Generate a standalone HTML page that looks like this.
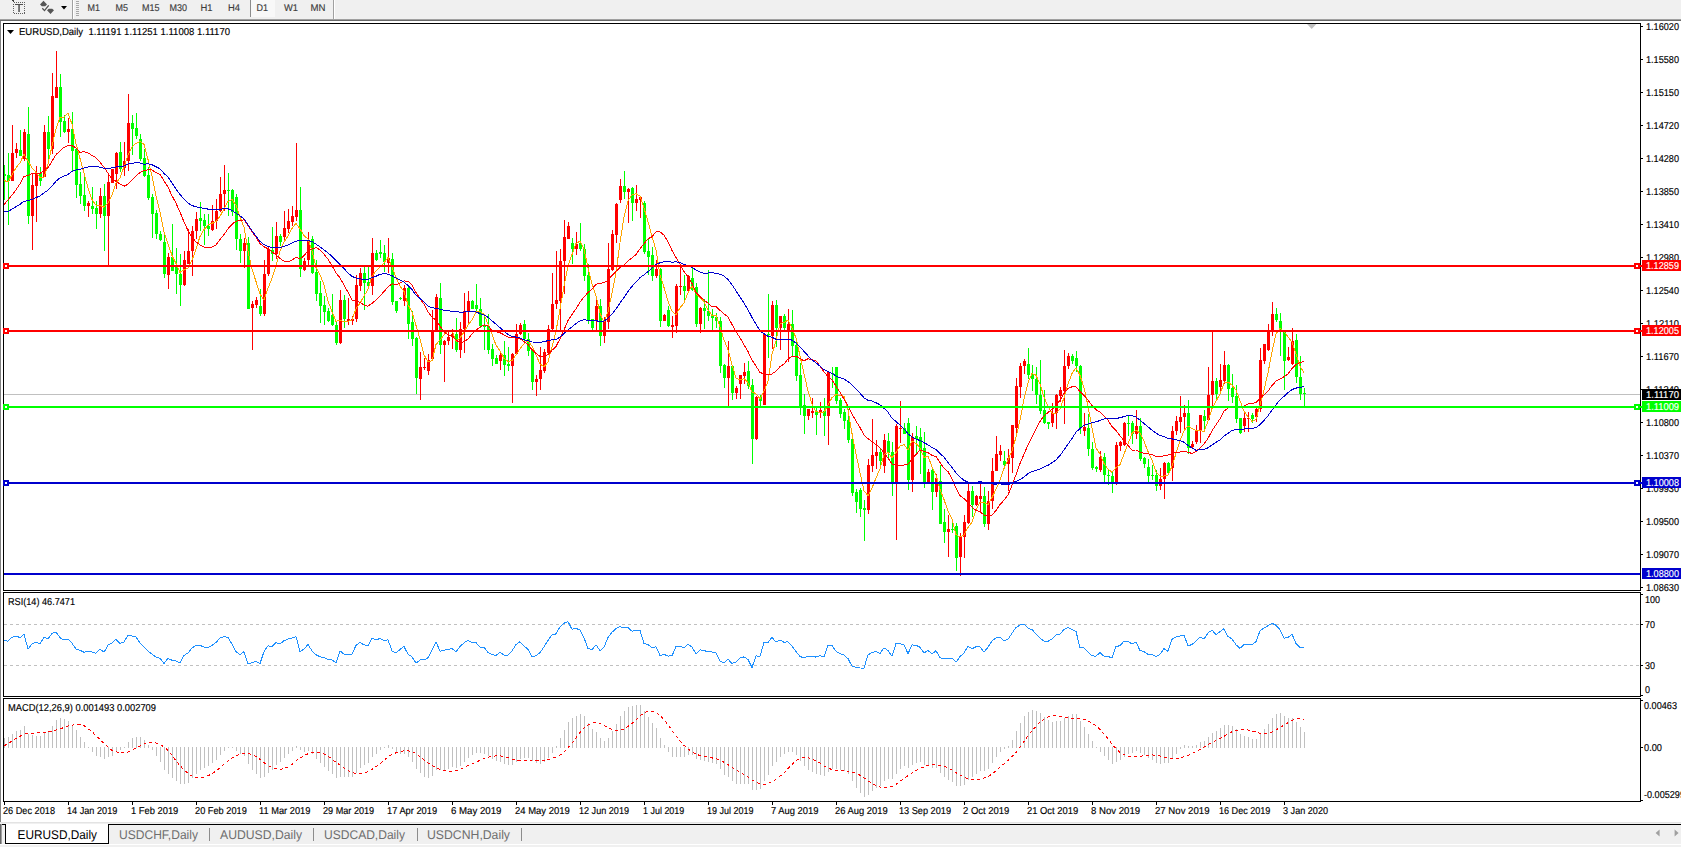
<!DOCTYPE html>
<html lang="en"><head><meta charset="utf-8"><title>EURUSD,Daily</title>
<style>html,body{margin:0;padding:0;background:#fff;overflow:hidden}svg{display:block}text{font-family:"Liberation Sans",sans-serif;fill:#000;text-rendering:geometricPrecision}.ax{font-size:10px;stroke:#000;stroke-width:0.15px}.axw{stroke:#fff}.tb{font-size:9.8px;fill:#3c3c3c;stroke:#3c3c3c;stroke-width:0.15px}.tab{font-size:12.6px}.tabi{font-size:12.6px;fill:#6e6e6e}</style></head><body>
<svg width="1681" height="847" viewBox="0 0 1681 847">
<rect x="0" y="0" width="1681" height="847" fill="#ffffff"/>
<g shape-rendering="crispEdges">
<rect x="0" y="0" width="1681" height="19" fill="#f0f0f0"/>
<rect x="0" y="19" width="1681" height="1" fill="#a0a0a0"/>
<rect x="0" y="20" width="1681" height="1" fill="#696969"/>
<rect x="72" y="0" width="1" height="19" fill="#a0a0a0"/>
<rect x="73" y="0" width="1" height="19" fill="#ffffff"/>
<rect x="333" y="0" width="1" height="19" fill="#a0a0a0"/>
<rect x="334" y="0" width="1" height="19" fill="#ffffff"/>
<rect x="76" y="1" width="3" height="1" fill="#a8a8a8"/>
<rect x="76" y="3" width="3" height="1" fill="#a8a8a8"/>
<rect x="76" y="5" width="3" height="1" fill="#a8a8a8"/>
<rect x="76" y="7" width="3" height="1" fill="#a8a8a8"/>
<rect x="76" y="9" width="3" height="1" fill="#a8a8a8"/>
<rect x="76" y="11" width="3" height="1" fill="#a8a8a8"/>
<rect x="76" y="13" width="3" height="1" fill="#a8a8a8"/>
<rect x="76" y="15" width="3" height="1" fill="#a8a8a8"/>
<rect x="251" y="0" width="24" height="17" fill="#f8f8f8"/>
<rect x="250" y="0" width="1" height="17" fill="#8c8c8c"/>
</g>
<g shape-rendering="crispEdges">
<rect x="13.5" y="2.5" width="11" height="11" fill="none" stroke="#606060" stroke-width="1" stroke-dasharray="1 1"/>
<rect x="12" y="0" width="2" height="1" fill="#404040"/><rect x="13" y="1" width="1" height="1" fill="#404040"/>
<rect x="15" y="4" width="8" height="1" fill="#505050"/>
</g>
<rect x="18.3" y="4" width="1.5" height="8" fill="#505050"/>
<path d="M40 4.6L43.5 0.8L47 4.6L45.2 6.2H41.8z M47 10.2L48.8 8.8H52.2L54 10.2L50.5 13.9z" fill="#555"/>
<path d="M42.3 8.3l2.2 2.3 4.2-5.3" fill="none" stroke="#505050" stroke-width="1.3"/>
<path d="M61 6h6l-3 3.5z" fill="#000"/>
<text class="tb" x="87.5" y="11" textLength="12.5" lengthAdjust="spacingAndGlyphs">M1</text>
<text class="tb" x="115.5" y="11" textLength="12.5" lengthAdjust="spacingAndGlyphs">M5</text>
<text class="tb" x="142" y="11" textLength="17.5" lengthAdjust="spacingAndGlyphs">M15</text>
<text class="tb" x="169.5" y="11" textLength="17.5" lengthAdjust="spacingAndGlyphs">M30</text>
<text class="tb" x="200.5" y="11" textLength="12" lengthAdjust="spacingAndGlyphs">H1</text>
<text class="tb" x="228" y="11" textLength="12" lengthAdjust="spacingAndGlyphs">H4</text>
<text class="tb" x="256.5" y="11" textLength="11.5" lengthAdjust="spacingAndGlyphs">D1</text>
<text class="tb" x="284" y="11" textLength="14" lengthAdjust="spacingAndGlyphs">W1</text>
<text class="tb" x="310.5" y="11" textLength="15" lengthAdjust="spacingAndGlyphs">MN</text>
<g shape-rendering="crispEdges">
<rect x="0" y="21" width="1" height="801" fill="#828282"/>
<rect x="3" y="23" width="1638" height="1" fill="#000"/>
<rect x="3" y="590" width="1638" height="1" fill="#000"/>
<rect x="3" y="23" width="1" height="568" fill="#000"/>
<rect x="1640" y="23" width="1" height="568" fill="#000"/>
<rect x="3" y="592" width="1638" height="1" fill="#000"/>
<rect x="3" y="696" width="1638" height="1" fill="#000"/>
<rect x="3" y="592" width="1" height="105" fill="#000"/>
<rect x="1640" y="592" width="1" height="105" fill="#000"/>
<rect x="3" y="698" width="1638" height="1" fill="#000"/>
<rect x="3" y="801" width="1638" height="1" fill="#000"/>
<rect x="3" y="698" width="1" height="104" fill="#000"/>
<rect x="1640" y="698" width="1" height="104" fill="#000"/>
</g>
<defs><clipPath id="cm"><rect x="4" y="24" width="1636" height="566"/></clipPath><clipPath id="cr"><rect x="4" y="593" width="1636" height="103"/></clipPath><clipPath id="cd"><rect x="4" y="699" width="1636" height="102"/></clipPath></defs>
<g clip-path="url(#cm)">
<rect x="4" y="394" width="1636" height="1" fill="#c0c0c0" shape-rendering="crispEdges"/>
<g shape-rendering="crispEdges">
<path fill="#00ff00" d="M4 165h1v35h-1zM8 153h1v72h-1zM20 130h1v26h-1zM28 107h1v117h-1zM40 167h1v19h-1zM48 116h1v46h-1zM60 74h1v63h-1zM64 115h1v18h-1zM72 112h1v59h-1zM76 149h1v49h-1zM80 172h1v32h-1zM84 175h1v36h-1zM92 187h1v27h-1zM96 201h1v28h-1zM104 184h1v67h-1zM120 142h1v30h-1zM132 115h1v40h-1zM136 113h1v26h-1zM140 134h1v27h-1zM144 149h1v28h-1zM148 167h1v33h-1zM152 194h1v44h-1zM156 210h1v29h-1zM160 231h1v10h-1zM164 234h1v44h-1zM172 224h1v47h-1zM176 248h1v46h-1zM180 254h1v52h-1zM200 202h1v29h-1zM204 214h1v31h-1zM208 214h1v22h-1zM228 173h1v43h-1zM232 189h1v27h-1zM236 194h1v56h-1zM240 234h1v29h-1zM248 237h1v72h-1zM260 289h1v27h-1zM272 227h1v34h-1zM280 234h1v12h-1zM300 187h1v90h-1zM312 236h1v38h-1zM316 260h1v41h-1zM320 281h1v42h-1zM324 296h1v29h-1zM328 308h1v14h-1zM332 294h1v32h-1zM336 321h1v24h-1zM344 295h1v33h-1zM364 267h1v43h-1zM368 267h1v22h-1zM376 250h1v11h-1zM380 240h1v18h-1zM384 245h1v27h-1zM392 253h1v52h-1zM396 301h1v12h-1zM400 297h1v3h-1zM408 286h1v53h-1zM412 311h1v35h-1zM416 337h1v57h-1zM440 283h1v71h-1zM456 318h1v34h-1zM472 300h1v9h-1zM476 284h1v27h-1zM480 298h1v30h-1zM484 316h1v34h-1zM488 314h1v40h-1zM492 344h1v22h-1zM496 355h1v9h-1zM504 341h1v35h-1zM508 347h1v24h-1zM524 320h1v21h-1zM528 333h1v23h-1zM532 349h1v41h-1zM572 238h1v26h-1zM580 223h1v28h-1zM584 244h1v37h-1zM588 264h1v60h-1zM592 319h1v11h-1zM600 299h1v47h-1zM624 171h1v28h-1zM632 187h1v34h-1zM644 201h1v53h-1zM648 239h1v36h-1zM652 247h1v34h-1zM660 268h1v59h-1zM668 306h1v21h-1zM684 275h1v25h-1zM692 267h1v24h-1zM696 283h1v44h-1zM704 299h1v30h-1zM708 270h1v51h-1zM712 309h1v21h-1zM716 313h1v15h-1zM720 317h1v56h-1zM724 364h1v24h-1zM732 366h1v34h-1zM748 361h1v28h-1zM752 379h1v85h-1zM760 395h1v11h-1zM768 294h1v64h-1zM776 300h1v47h-1zM784 314h1v16h-1zM792 310h1v46h-1zM796 340h1v41h-1zM800 363h1v52h-1zM804 394h1v40h-1zM816 408h1v27h-1zM824 398h1v38h-1zM832 367h1v21h-1zM836 367h1v37h-1zM840 398h1v20h-1zM844 409h1v20h-1zM848 409h1v34h-1zM852 438h1v58h-1zM856 489h1v24h-1zM860 488h1v29h-1zM864 500h1v41h-1zM880 448h1v18h-1zM888 433h1v26h-1zM892 442h1v54h-1zM904 423h1v11h-1zM908 418h1v72h-1zM916 426h1v28h-1zM920 428h1v46h-1zM924 432h1v56h-1zM932 468h1v42h-1zM940 465h1v59h-1zM944 509h1v34h-1zM952 523h1v10h-1zM956 523h1v48h-1zM972 486h1v31h-1zM984 487h1v40h-1zM1004 451h1v16h-1zM1028 348h1v31h-1zM1032 365h1v26h-1zM1036 367h1v37h-1zM1040 360h1v54h-1zM1044 390h1v34h-1zM1048 422h1v7h-1zM1072 354h1v10h-1zM1076 351h1v21h-1zM1080 365h1v69h-1zM1088 414h1v42h-1zM1092 442h1v28h-1zM1096 466h1v6h-1zM1104 453h1v29h-1zM1108 470h1v15h-1zM1112 471h1v22h-1zM1128 416h1v20h-1zM1132 421h1v23h-1zM1140 418h1v43h-1zM1144 457h1v11h-1zM1148 459h1v23h-1zM1152 465h1v15h-1zM1156 470h1v21h-1zM1168 462h1v12h-1zM1188 400h1v54h-1zM1204 410h1v20h-1zM1216 378h1v21h-1zM1228 364h1v37h-1zM1232 374h1v29h-1zM1236 385h1v38h-1zM1240 418h1v16h-1zM1252 413h1v10h-1zM1276 308h1v14h-1zM1280 313h1v43h-1zM1284 332h1v58h-1zM1296 334h1v49h-1zM1300 356h1v44h-1zM1304 388h1v18h-1zM3 174h3v2h-3zM7 175h3v6h-3zM19 150h3v6h-3zM27 134h3v82h-3zM39 173h3v8h-3zM47 132h3v17h-3zM59 87h3v35h-3zM63 121h3v11h-3zM71 129h3v22h-3zM75 149h3v36h-3zM79 184h3v12h-3zM83 195h3v11h-3zM91 206h3v3h-3zM95 208h3v6h-3zM103 196h3v20h-3zM119 152h3v17h-3zM131 123h3v6h-3zM135 128h3v8h-3zM139 139h3v20h-3zM143 158h3v18h-3zM147 175h3v23h-3zM151 197h3v17h-3zM155 213h3v21h-3zM159 234h3v6h-3zM163 242h3v32h-3zM171 257h3v14h-3zM175 266h3v8h-3zM179 274h3v11h-3zM199 218h3v3h-3zM203 220h3v6h-3zM207 226h3v3h-3zM227 190h3v1h-3zM231 190h3v22h-3zM235 197h3v42h-3zM239 239h3v12h-3zM247 243h3v66h-3zM259 306h3v8h-3zM271 250h3v4h-3zM279 236h3v6h-3zM299 210h3v59h-3zM311 239h3v34h-3zM315 272h3v22h-3zM319 293h3v13h-3zM323 305h3v7h-3zM327 311h3v10h-3zM331 315h3v10h-3zM335 325h3v18h-3zM343 300h3v19h-3zM363 273h3v10h-3zM367 282h3v4h-3zM375 253h3v7h-3zM379 252h3v2h-3zM383 253h3v9h-3zM391 259h3v43h-3zM395 301h3v10h-3zM399 298h3v1h-3zM407 288h3v36h-3zM411 322h3v17h-3zM415 338h3v40h-3zM439 298h3v47h-3zM455 334h3v16h-3zM471 301h3v8h-3zM475 305h3v4h-3zM479 309h3v17h-3zM483 326h3v1h-3zM487 326h3v24h-3zM491 349h3v10h-3zM495 358h3v6h-3zM503 355h3v10h-3zM507 364h3v2h-3zM523 324h3v15h-3zM527 339h3v12h-3zM531 350h3v32h-3zM571 243h3v6h-3zM579 243h3v6h-3zM583 249h3v27h-3zM587 275h3v46h-3zM591 319h3v9h-3zM599 306h3v30h-3zM623 186h3v6h-3zM631 188h3v15h-3zM643 203h3v49h-3zM647 251h3v6h-3zM651 255h3v21h-3zM659 269h3v52h-3zM667 310h3v16h-3zM683 286h3v5h-3zM691 278h3v12h-3zM695 287h3v37h-3zM703 308h3v3h-3zM707 311h3v5h-3zM711 316h3v2h-3zM715 317h3v4h-3zM719 321h3v45h-3zM723 365h3v13h-3zM731 366h3v27h-3zM747 371h3v15h-3zM751 385h3v54h-3zM759 397h3v4h-3zM767 334h3v1h-3zM775 305h3v23h-3zM783 316h3v12h-3zM791 324h3v22h-3zM795 345h3v31h-3zM799 375h3v32h-3zM803 405h3v11h-3zM815 411h3v4h-3zM823 411h3v5h-3zM831 373h3v1h-3zM835 367h3v34h-3zM839 400h3v14h-3zM843 412h3v9h-3zM847 420h3v20h-3zM851 439h3v54h-3zM855 492h3v10h-3zM859 490h3v19h-3zM863 508h3v2h-3zM879 452h3v9h-3zM887 441h3v12h-3zM891 452h3v30h-3zM903 428h3v6h-3zM907 423h3v57h-3zM915 436h3v3h-3zM919 437h3v13h-3zM923 448h3v34h-3zM931 470h3v22h-3zM939 481h3v43h-3zM943 522h3v10h-3zM951 529h3v1h-3zM955 526h3v32h-3zM971 491h3v14h-3zM983 496h3v28h-3zM1003 461h3v4h-3zM1027 364h3v11h-3zM1031 374h3v5h-3zM1035 379h3v16h-3zM1039 395h3v16h-3zM1043 410h3v13h-3zM1047 422h3v2h-3zM1071 356h3v5h-3zM1075 358h3v8h-3zM1079 366h3v62h-3zM1087 428h3v21h-3zM1091 449h3v19h-3zM1095 467h3v2h-3zM1103 457h3v18h-3zM1107 475h3v1h-3zM1111 476h3v8h-3zM1127 423h3v1h-3zM1131 423h3v11h-3zM1139 426h3v33h-3zM1143 458h3v6h-3zM1147 467h3v9h-3zM1151 475h3v1h-3zM1155 475h3v11h-3zM1167 463h3v10h-3zM1187 413h3v35h-3zM1203 416h3v5h-3zM1215 381h3v13h-3zM1227 365h3v24h-3zM1231 388h3v9h-3zM1235 396h3v23h-3zM1239 418h3v15h-3zM1251 415h3v4h-3zM1275 314h3v6h-3zM1279 321h3v11h-3zM1283 332h3v29h-3zM1295 340h3v37h-3zM1299 377h3v17h-3zM1303 393h3v1h-3z"/>
<path fill="#ff0000" d="M12 125h1v56h-1zM16 143h1v15h-1zM24 129h1v32h-1zM32 173h1v77h-1zM36 166h1v56h-1zM44 125h1v52h-1zM52 73h1v81h-1zM56 51h1v47h-1zM68 118h1v25h-1zM88 201h1v16h-1zM100 188h1v30h-1zM108 174h1v91h-1zM112 169h1v14h-1zM116 152h1v37h-1zM124 142h1v34h-1zM128 94h1v77h-1zM168 253h1v36h-1zM184 251h1v35h-1zM188 229h1v35h-1zM192 226h1v50h-1zM196 212h1v27h-1zM212 205h1v26h-1zM216 199h1v30h-1zM220 177h1v35h-1zM224 165h1v46h-1zM244 238h1v30h-1zM252 301h1v49h-1zM256 297h1v11h-1zM264 260h1v56h-1zM268 247h1v29h-1zM276 222h1v37h-1zM284 211h1v30h-1zM288 209h1v24h-1zM292 206h1v20h-1zM296 143h1v78h-1zM304 258h1v13h-1zM308 232h1v34h-1zM340 290h1v54h-1zM348 298h1v27h-1zM352 316h1v9h-1zM356 275h1v47h-1zM360 268h1v23h-1zM372 238h1v57h-1zM388 238h1v35h-1zM404 285h1v21h-1zM420 352h1v48h-1zM424 358h1v12h-1zM428 354h1v21h-1zM432 310h1v49h-1zM436 294h1v38h-1zM444 340h1v42h-1zM448 331h1v14h-1zM452 329h1v20h-1zM460 322h1v36h-1zM464 293h1v60h-1zM468 291h1v33h-1zM500 352h1v18h-1zM512 353h1v50h-1zM516 324h1v31h-1zM520 323h1v12h-1zM536 375h1v21h-1zM540 347h1v43h-1zM544 349h1v24h-1zM548 325h1v29h-1zM552 273h1v57h-1zM556 251h1v58h-1zM560 249h1v83h-1zM564 220h1v74h-1zM568 222h1v17h-1zM576 232h1v23h-1zM596 298h1v32h-1zM604 317h1v26h-1zM608 243h1v86h-1zM612 230h1v41h-1zM616 203h1v40h-1zM620 179h1v24h-1zM628 188h1v35h-1zM636 185h1v26h-1zM640 197h1v21h-1zM656 260h1v18h-1zM664 314h1v7h-1zM672 316h1v22h-1zM676 284h1v49h-1zM680 264h1v31h-1zM688 275h1v17h-1zM700 307h1v26h-1zM728 341h1v65h-1zM736 386h1v13h-1zM740 375h1v24h-1zM744 363h1v21h-1zM756 396h1v44h-1zM764 334h1v71h-1zM772 301h1v48h-1zM780 316h1v34h-1zM788 309h1v53h-1zM808 409h1v11h-1zM812 398h1v20h-1zM820 402h1v16h-1zM828 371h1v74h-1zM868 459h1v55h-1zM872 419h1v53h-1zM876 440h1v29h-1zM884 434h1v39h-1zM896 424h1v116h-1zM900 401h1v42h-1zM912 433h1v59h-1zM928 469h1v13h-1zM936 474h1v23h-1zM948 515h1v42h-1zM960 533h1v43h-1zM964 515h1v43h-1zM968 484h1v40h-1zM976 495h1v11h-1zM980 484h1v29h-1zM988 491h1v39h-1zM992 458h1v51h-1zM996 436h1v35h-1zM1000 445h1v16h-1zM1008 449h1v42h-1zM1012 425h1v48h-1zM1016 378h1v57h-1zM1020 363h1v35h-1zM1024 359h1v15h-1zM1052 403h1v24h-1zM1056 394h1v35h-1zM1060 387h1v15h-1zM1064 350h1v74h-1zM1068 353h1v16h-1zM1084 413h1v23h-1zM1100 451h1v21h-1zM1116 442h1v43h-1zM1120 441h1v10h-1zM1124 422h1v24h-1zM1136 410h1v29h-1zM1160 468h1v22h-1zM1164 462h1v37h-1zM1172 426h1v55h-1zM1176 416h1v19h-1zM1180 396h1v37h-1zM1184 405h1v24h-1zM1192 441h1v7h-1zM1196 425h1v19h-1zM1200 415h1v28h-1zM1208 367h1v54h-1zM1212 332h1v74h-1zM1220 364h1v28h-1zM1224 351h1v33h-1zM1244 411h1v21h-1zM1248 412h1v20h-1zM1256 408h1v14h-1zM1260 348h1v64h-1zM1264 344h1v20h-1zM1268 324h1v27h-1zM1272 302h1v34h-1zM1288 347h1v14h-1zM1292 328h1v37h-1zM11 153h3v28h-3zM15 149h3v4h-3zM23 132h3v27h-3zM31 185h3v31h-3zM35 173h3v13h-3zM43 132h3v45h-3zM51 96h3v53h-3zM55 87h3v11h-3zM67 129h3v3h-3zM87 203h3v3h-3zM99 196h3v18h-3zM107 182h3v34h-3zM111 169h3v14h-3zM115 153h3v21h-3zM123 161h3v7h-3zM127 123h3v38h-3zM167 257h3v18h-3zM183 260h3v25h-3zM187 251h3v13h-3zM191 231h3v20h-3zM195 219h3v12h-3zM211 221h3v9h-3zM215 211h3v10h-3zM219 194h3v17h-3zM223 190h3v4h-3zM243 243h3v8h-3zM251 304h3v4h-3zM255 300h3v5h-3zM263 274h3v40h-3zM267 249h3v25h-3zM275 236h3v18h-3zM283 228h3v9h-3zM287 221h3v8h-3zM291 216h3v6h-3zM295 210h3v7h-3zM303 261h3v9h-3zM307 240h3v20h-3zM339 300h3v43h-3zM347 319h3v2h-3zM351 319h3v2h-3zM355 285h3v34h-3zM359 273h3v13h-3zM371 253h3v33h-3zM387 258h3v5h-3zM403 288h3v13h-3zM419 367h3v12h-3zM423 367h3v1h-3zM427 360h3v11h-3zM431 331h3v28h-3zM435 297h3v34h-3zM443 341h3v4h-3zM447 337h3v4h-3zM451 334h3v3h-3zM459 329h3v21h-3zM463 311h3v18h-3zM467 301h3v10h-3zM499 355h3v6h-3zM511 354h3v12h-3zM515 334h3v20h-3zM519 325h3v9h-3zM535 379h3v3h-3zM539 370h3v9h-3zM543 352h3v19h-3zM547 329h3v24h-3zM551 304h3v25h-3zM555 300h3v4h-3zM559 261h3v40h-3zM563 237h3v24h-3zM567 226h3v13h-3zM575 244h3v5h-3zM595 306h3v14h-3zM603 321h3v15h-3zM607 269h3v53h-3zM611 234h3v36h-3zM615 204h3v31h-3zM619 186h3v14h-3zM627 189h3v3h-3zM635 199h3v4h-3zM639 197h3v3h-3zM655 269h3v7h-3zM663 315h3v6h-3zM671 325h3v2h-3zM675 286h3v40h-3zM679 286h3v1h-3zM687 276h3v15h-3zM699 308h3v16h-3zM727 366h3v12h-3zM735 388h3v5h-3zM739 375h3v9h-3zM743 372h3v4h-3zM755 397h3v42h-3zM763 334h3v71h-3zM771 305h3v31h-3zM779 316h3v12h-3zM787 324h3v8h-3zM807 409h3v7h-3zM811 411h3v2h-3zM819 410h3v3h-3zM827 372h3v44h-3zM867 465h3v45h-3zM871 455h3v11h-3zM875 452h3v4h-3zM883 440h3v26h-3zM895 426h3v56h-3zM899 428h3v1h-3zM911 437h3v43h-3zM927 472h3v10h-3zM935 478h3v14h-3zM947 529h3v3h-3zM959 536h3v21h-3zM963 522h3v15h-3zM967 491h3v32h-3zM975 496h3v9h-3zM979 496h3v3h-3zM987 501h3v23h-3zM991 471h3v30h-3zM995 454h3v17h-3zM999 451h3v4h-3zM1007 458h3v6h-3zM1011 425h3v33h-3zM1015 386h3v42h-3zM1019 366h3v21h-3zM1023 361h3v5h-3zM1051 413h3v10h-3zM1055 395h3v18h-3zM1059 390h3v6h-3zM1063 366h3v25h-3zM1067 356h3v10h-3zM1083 427h3v4h-3zM1099 457h3v13h-3zM1115 445h3v38h-3zM1119 442h3v4h-3zM1123 423h3v22h-3zM1135 426h3v8h-3zM1159 479h3v7h-3zM1163 463h3v16h-3zM1171 431h3v37h-3zM1175 421h3v10h-3zM1179 417h3v5h-3zM1183 413h3v4h-3zM1191 444h3v3h-3zM1195 431h3v11h-3zM1199 415h3v16h-3zM1207 395h3v25h-3zM1211 381h3v14h-3zM1219 380h3v7h-3zM1223 365h3v16h-3zM1243 418h3v8h-3zM1247 418h3v1h-3zM1255 409h3v8h-3zM1259 360h3v49h-3zM1263 344h3v17h-3zM1267 331h3v19h-3zM1271 314h3v17h-3zM1287 357h3v3h-3zM1291 341h3v23h-3z"/>
</g>
<g shape-rendering="crispEdges" fill="none" stroke-width="1" stroke-linejoin="round">
<polyline stroke="#ffa500" points="4.0,180.4 8.0,182.1 12.0,174.7 16.0,167.8 20.0,162.9 24.0,154.1 28.0,161.3 32.0,167.7 36.0,172.4 40.0,177.4 44.0,177.4 48.0,163.9 52.0,146.1 56.0,128.9 60.0,117.2 64.0,117.2 68.0,113.2 72.0,124.1 76.0,143.7 80.0,158.4 84.0,173.1 88.0,187.9 92.0,199.5 96.0,205.3 100.0,205.3 104.0,207.3 108.0,203.1 112.0,195.2 116.0,183.1 120.0,177.7 124.0,166.7 128.0,154.8 132.0,146.8 136.0,143.4 140.0,141.4 144.0,144.4 148.0,159.4 152.0,176.3 156.0,196.0 160.0,212.3 164.0,232.0 168.0,243.9 172.0,255.4 176.0,263.4 180.0,272.4 184.0,269.6 188.0,268.4 192.0,260.3 196.0,249.2 200.0,236.4 204.0,229.6 208.0,225.1 212.0,223.2 216.0,221.6 220.0,216.3 224.0,209.0 228.0,201.5 232.0,199.6 236.0,205.3 240.0,216.8 244.0,227.3 248.0,250.9 252.0,269.3 256.0,281.4 260.0,294.0 264.0,300.3 268.0,288.4 272.0,278.3 276.0,265.5 280.0,251.1 284.0,241.8 288.0,236.1 292.0,228.5 296.0,223.3 300.0,228.8 304.0,235.4 308.0,239.2 312.0,250.6 316.0,267.4 320.0,274.6 324.0,284.8 328.0,301.1 332.0,311.6 336.0,321.4 340.0,320.3 344.0,321.9 348.0,321.4 352.0,320.2 356.0,308.7 360.0,303.3 364.0,296.0 368.0,289.4 372.0,276.1 376.0,271.1 380.0,267.3 384.0,263.0 388.0,257.3 392.0,267.1 396.0,277.2 400.0,286.3 404.0,291.5 408.0,304.7 412.0,312.0 416.0,325.5 420.0,339.0 424.0,354.8 428.0,362.1 432.0,360.7 436.0,344.5 440.0,340.0 444.0,334.8 448.0,330.2 452.0,330.7 456.0,341.3 460.0,338.0 464.0,332.1 468.0,324.9 472.0,319.9 476.0,311.7 480.0,311.3 484.0,314.4 488.0,324.3 492.0,334.3 496.0,345.1 500.0,350.8 504.0,358.4 508.0,361.5 512.0,360.6 516.0,354.8 520.0,348.9 524.0,343.7 528.0,340.7 532.0,346.1 536.0,355.0 540.0,364.0 544.0,366.6 548.0,362.2 552.0,346.7 556.0,331.0 560.0,309.2 564.0,286.2 568.0,265.6 572.0,254.6 576.0,243.5 580.0,241.1 584.0,248.9 588.0,267.9 592.0,283.6 596.0,295.8 600.0,313.1 604.0,322.3 608.0,311.8 612.0,293.0 616.0,272.6 620.0,242.6 624.0,216.7 628.0,200.8 632.0,194.7 636.0,193.7 640.0,196.0 644.0,208.0 648.0,221.6 652.0,236.2 656.0,250.1 660.0,274.8 664.0,287.4 668.0,301.3 672.0,311.1 676.0,314.7 680.0,307.7 684.0,303.0 688.0,292.8 692.0,285.8 696.0,293.3 700.0,297.7 704.0,301.7 708.0,309.9 712.0,315.4 716.0,315.0 720.0,326.6 724.0,339.9 728.0,349.7 732.0,364.7 736.0,378.0 740.0,379.9 744.0,378.7 748.0,382.7 752.0,391.9 756.0,393.7 760.0,398.8 764.0,391.3 768.0,381.2 772.0,354.5 776.0,340.6 780.0,323.7 784.0,322.4 788.0,320.2 792.0,328.2 796.0,337.8 800.0,356.0 804.0,373.7 808.0,390.8 812.0,403.8 816.0,411.7 820.0,412.3 824.0,412.3 828.0,404.9 832.0,397.6 836.0,394.7 840.0,395.4 844.0,396.3 848.0,409.8 852.0,433.5 856.0,453.8 860.0,472.8 864.0,490.7 868.0,495.7 872.0,488.1 876.0,478.1 880.0,468.7 884.0,454.7 888.0,452.3 892.0,457.7 896.0,452.6 900.0,445.9 904.0,444.6 908.0,450.0 912.0,441.0 916.0,443.4 920.0,447.9 924.0,457.6 928.0,456.0 932.0,466.9 936.0,474.8 940.0,489.5 944.0,499.5 948.0,510.9 952.0,518.6 956.0,534.6 960.0,537.1 964.0,535.1 968.0,527.5 972.0,522.4 976.0,510.0 980.0,502.0 984.0,502.3 988.0,504.4 992.0,497.6 996.0,489.3 1000.0,480.2 1004.0,468.5 1008.0,459.8 1012.0,450.8 1016.0,437.2 1020.0,420.2 1024.0,399.3 1028.0,382.7 1032.0,373.5 1036.0,375.2 1040.0,384.1 1044.0,396.7 1048.0,406.5 1052.0,413.3 1056.0,413.3 1060.0,409.2 1064.0,397.7 1068.0,384.0 1072.0,373.5 1076.0,367.8 1080.0,375.4 1084.0,387.6 1088.0,406.1 1092.0,427.6 1096.0,448.1 1100.0,453.9 1104.0,463.5 1108.0,469.1 1112.0,472.3 1116.0,467.6 1120.0,464.6 1124.0,454.1 1128.0,443.7 1132.0,433.6 1136.0,429.8 1140.0,433.1 1144.0,441.3 1148.0,451.6 1152.0,460.2 1156.0,472.0 1160.0,476.2 1164.0,476.0 1168.0,475.4 1172.0,466.3 1176.0,453.3 1180.0,440.8 1184.0,430.8 1188.0,425.8 1192.0,428.5 1196.0,430.5 1200.0,430.2 1204.0,431.7 1208.0,421.2 1212.0,408.5 1216.0,401.2 1220.0,394.1 1224.0,383.0 1228.0,381.9 1232.0,385.1 1236.0,390.0 1240.0,400.6 1244.0,411.2 1248.0,416.9 1252.0,421.4 1256.0,419.4 1260.0,404.9 1264.0,390.1 1268.0,372.8 1272.0,351.7 1276.0,333.9 1280.0,328.4 1284.0,331.7 1288.0,336.8 1292.0,342.3 1296.0,353.7 1300.0,366.0 1304.0,372.8"/>
<polyline stroke="#ff0000" points="4.0,204.4 8.0,200.1 12.0,195.0 16.0,189.8 20.0,183.8 24.0,176.5 28.0,175.4 32.0,173.7 36.0,173.5 40.0,173.4 44.0,170.6 48.0,167.6 52.0,161.3 56.0,154.7 60.0,150.8 64.0,147.4 68.0,145.7 72.0,145.8 76.0,147.8 80.0,152.4 84.0,151.6 88.0,152.9 92.0,155.4 96.0,157.8 100.0,162.3 104.0,167.1 108.0,173.2 112.0,179.1 116.0,181.3 120.0,183.9 124.0,186.2 128.0,184.2 132.0,180.2 136.0,175.9 140.0,172.6 144.0,170.6 148.0,169.9 152.0,169.9 156.0,172.6 160.0,174.3 164.0,180.9 168.0,187.2 172.0,195.7 176.0,203.2 180.0,212.1 184.0,221.9 188.0,230.6 192.0,237.5 196.0,241.8 200.0,245.0 204.0,247.0 208.0,248.1 212.0,247.2 216.0,245.1 220.0,239.4 224.0,234.6 228.0,228.8 232.0,224.4 236.0,221.1 240.0,220.5 244.0,219.9 248.0,225.5 252.0,231.5 256.0,237.2 260.0,243.5 264.0,246.8 268.0,248.8 272.0,251.8 276.0,254.8 280.0,258.5 284.0,261.1 288.0,261.8 292.0,260.1 296.0,257.1 300.0,259.0 304.0,255.6 308.0,251.0 312.0,249.1 316.0,247.6 320.0,249.9 324.0,254.3 328.0,259.2 332.0,265.6 336.0,272.8 340.0,277.9 344.0,285.0 348.0,292.3 352.0,300.2 356.0,301.3 360.0,302.2 364.0,305.2 368.0,306.2 372.0,303.3 376.0,300.0 380.0,295.9 384.0,291.6 388.0,286.8 392.0,283.9 396.0,284.6 400.0,283.2 404.0,280.9 408.0,281.3 412.0,285.1 416.0,292.6 420.0,298.6 424.0,304.3 428.0,312.0 432.0,317.1 436.0,320.1 440.0,326.1 444.0,332.0 448.0,334.5 452.0,336.1 456.0,339.8 460.0,342.7 464.0,341.8 468.0,339.1 472.0,334.1 476.0,330.0 480.0,327.1 484.0,324.8 488.0,326.1 492.0,330.5 496.0,331.8 500.0,332.8 504.0,334.8 508.0,337.1 512.0,337.4 516.0,337.8 520.0,338.8 524.0,341.5 528.0,344.5 532.0,349.7 536.0,353.4 540.0,356.5 544.0,356.7 548.0,354.5 552.0,350.3 556.0,346.4 560.0,338.9 564.0,329.8 568.0,320.6 572.0,314.5 576.0,308.7 580.0,302.3 584.0,297.0 588.0,292.6 592.0,289.0 596.0,284.4 600.0,283.2 604.0,282.7 608.0,280.2 612.0,275.4 616.0,271.3 620.0,267.6 624.0,265.2 628.0,260.9 632.0,258.0 636.0,254.4 640.0,248.8 644.0,243.9 648.0,238.8 652.0,236.7 656.0,231.9 660.0,231.8 664.0,235.2 668.0,241.8 672.0,250.5 676.0,257.6 680.0,264.3 684.0,271.6 688.0,276.9 692.0,283.4 696.0,292.4 700.0,296.4 704.0,300.2 708.0,303.2 712.0,306.7 716.0,306.7 720.0,310.3 724.0,314.0 728.0,316.9 732.0,324.5 736.0,331.8 740.0,337.8 744.0,344.7 748.0,351.5 752.0,359.8 756.0,366.1 760.0,372.5 764.0,373.8 768.0,375.0 772.0,373.9 776.0,371.1 780.0,366.7 784.0,364.0 788.0,359.1 792.0,356.1 796.0,356.1 800.0,358.6 804.0,360.8 808.0,358.7 812.0,359.7 816.0,360.7 820.0,366.1 824.0,371.9 828.0,376.7 832.0,380.0 836.0,386.1 840.0,392.2 844.0,399.1 848.0,405.8 852.0,414.2 856.0,421.0 860.0,427.6 864.0,434.8 868.0,438.7 872.0,441.5 876.0,444.5 880.0,447.7 884.0,452.6 888.0,458.2 892.0,464.0 896.0,464.9 900.0,465.4 904.0,465.0 908.0,464.1 912.0,459.4 916.0,454.4 920.0,450.2 924.0,451.4 928.0,452.6 932.0,455.4 936.0,456.6 940.0,462.6 944.0,468.2 948.0,471.6 952.0,479.0 956.0,488.3 960.0,495.6 964.0,498.6 968.0,502.5 972.0,507.2 976.0,510.5 980.0,511.5 984.0,515.2 988.0,515.9 992.0,515.3 996.0,510.4 1000.0,504.6 1004.0,500.1 1008.0,494.9 1012.0,485.4 1016.0,474.7 1020.0,463.6 1024.0,454.3 1028.0,445.0 1032.0,436.7 1036.0,429.4 1040.0,421.4 1044.0,415.8 1048.0,412.5 1052.0,409.5 1056.0,405.5 1060.0,400.2 1064.0,393.6 1068.0,388.6 1072.0,386.8 1076.0,386.8 1080.0,391.6 1084.0,395.3 1088.0,400.3 1092.0,405.5 1096.0,409.7 1100.0,412.1 1104.0,415.7 1108.0,420.2 1112.0,426.6 1116.0,430.5 1120.0,435.9 1124.0,440.7 1128.0,445.3 1132.0,450.1 1136.0,450.0 1140.0,452.2 1144.0,453.3 1148.0,453.9 1152.0,454.4 1156.0,456.4 1160.0,456.7 1164.0,455.8 1168.0,455.0 1172.0,453.9 1176.0,452.4 1180.0,452.0 1184.0,451.2 1188.0,452.2 1192.0,453.5 1196.0,451.5 1200.0,448.0 1204.0,444.1 1208.0,438.3 1212.0,430.8 1216.0,424.7 1220.0,418.8 1224.0,411.1 1228.0,408.1 1232.0,406.4 1236.0,406.5 1240.0,408.0 1244.0,405.9 1248.0,404.0 1252.0,403.2 1256.0,402.7 1260.0,398.4 1264.0,394.8 1268.0,391.2 1272.0,385.5 1276.0,381.2 1280.0,378.9 1284.0,376.8 1288.0,374.0 1292.0,368.5 1296.0,364.4 1300.0,362.7 1304.0,361.1"/>
<polyline stroke="#0000cd" points="4.0,211.6 8.0,211.6 12.0,209.1 16.0,206.7 20.0,204.3 24.0,201.2 28.0,200.8 32.0,199.3 36.0,197.6 40.0,196.0 44.0,192.9 48.0,190.2 52.0,185.9 56.0,181.2 60.0,177.8 64.0,176.1 68.0,174.5 72.0,171.5 76.0,170.1 80.0,169.3 84.0,168.1 88.0,167.1 92.0,166.3 96.0,166.5 100.0,167.1 104.0,168.3 108.0,168.6 112.0,167.9 116.0,166.9 120.0,166.5 124.0,166.0 128.0,164.1 132.0,163.2 136.0,162.8 140.0,162.9 144.0,164.3 148.0,163.7 152.0,164.7 156.0,166.7 160.0,168.7 164.0,173.4 168.0,177.1 172.0,182.9 176.0,189.1 180.0,194.6 184.0,198.8 188.0,202.9 192.0,205.6 196.0,206.7 200.0,207.6 204.0,208.3 208.0,209.1 212.0,209.5 216.0,209.4 220.0,209.4 224.0,208.5 228.0,208.8 232.0,210.3 236.0,213.2 240.0,215.9 244.0,218.7 248.0,224.8 252.0,230.7 256.0,236.2 260.0,241.4 264.0,244.6 268.0,246.4 272.0,247.7 276.0,247.7 280.0,247.8 284.0,246.3 288.0,245.1 292.0,243.2 296.0,241.1 300.0,240.5 304.0,240.6 308.0,240.2 312.0,241.6 316.0,244.1 320.0,246.9 324.0,249.8 328.0,252.9 332.0,256.3 336.0,260.7 340.0,264.3 344.0,268.6 348.0,272.9 352.0,276.4 356.0,278.0 360.0,278.7 364.0,280.0 368.0,279.3 372.0,277.6 376.0,276.2 380.0,274.2 384.0,273.8 388.0,274.1 392.0,275.7 396.0,278.2 400.0,280.1 404.0,282.1 408.0,285.5 412.0,289.6 416.0,295.2 420.0,298.5 424.0,302.0 428.0,306.0 432.0,307.9 436.0,308.1 440.0,309.4 444.0,310.3 448.0,310.9 452.0,311.1 456.0,311.4 460.0,312.3 464.0,312.0 468.0,311.4 472.0,311.1 476.0,311.9 480.0,313.6 484.0,315.1 488.0,317.2 492.0,320.8 496.0,324.2 500.0,327.6 504.0,331.0 508.0,334.6 512.0,336.4 516.0,337.1 520.0,338.0 524.0,339.7 528.0,340.6 532.0,342.0 536.0,342.1 540.0,342.2 544.0,341.7 548.0,340.6 552.0,339.7 556.0,339.8 560.0,337.0 564.0,333.6 568.0,329.9 572.0,327.0 576.0,323.5 580.0,320.9 584.0,319.7 588.0,320.4 592.0,321.0 596.0,320.9 600.0,321.2 604.0,321.0 608.0,318.3 612.0,314.1 616.0,308.8 620.0,303.1 624.0,297.4 628.0,291.5 632.0,286.4 636.0,281.9 640.0,277.7 644.0,274.8 648.0,271.7 652.0,268.1 656.0,264.5 660.0,262.8 664.0,261.6 668.0,261.5 672.0,262.2 676.0,261.7 680.0,262.6 684.0,264.4 688.0,266.0 692.0,267.4 696.0,270.0 700.0,272.0 704.0,273.2 708.0,273.0 712.0,272.7 716.0,273.2 720.0,274.2 724.0,276.1 728.0,279.4 732.0,284.7 736.0,290.8 740.0,297.1 744.0,303.1 748.0,309.7 752.0,317.5 756.0,324.1 760.0,330.9 764.0,333.7 768.0,336.3 772.0,337.2 776.0,339.2 780.0,339.1 784.0,339.5 788.0,339.4 792.0,340.1 796.0,343.1 800.0,347.1 804.0,351.3 808.0,355.7 812.0,359.8 816.0,362.8 820.0,366.2 824.0,369.7 828.0,371.6 832.0,373.4 836.0,376.1 840.0,377.7 844.0,379.1 848.0,381.6 852.0,384.9 856.0,388.7 860.0,393.2 864.0,397.8 868.0,400.4 872.0,401.0 876.0,402.8 880.0,404.8 884.0,408.3 888.0,412.3 892.0,418.2 896.0,421.4 900.0,425.2 904.0,428.7 908.0,433.9 912.0,437.0 916.0,439.1 920.0,440.5 924.0,442.7 928.0,444.8 932.0,447.5 936.0,449.6 940.0,453.4 944.0,457.2 948.0,462.4 952.0,467.6 956.0,472.9 960.0,477.0 964.0,480.4 968.0,482.0 972.0,482.5 976.0,482.2 980.0,481.8 984.0,482.3 988.0,483.5 992.0,484.0 996.0,484.1 1000.0,483.8 1004.0,484.6 1008.0,484.8 1012.0,482.9 1016.0,481.5 1020.0,479.5 1024.0,477.1 1028.0,473.6 1032.0,471.6 1036.0,470.2 1040.0,468.9 1044.0,466.9 1048.0,465.3 1052.0,462.7 1056.0,459.9 1060.0,455.5 1064.0,449.9 1068.0,444.2 1072.0,438.5 1076.0,432.1 1080.0,428.5 1084.0,425.3 1088.0,423.9 1092.0,422.7 1096.0,421.8 1100.0,420.5 1104.0,418.9 1108.0,418.0 1112.0,418.5 1116.0,418.2 1120.0,417.9 1124.0,416.5 1128.0,415.4 1132.0,415.6 1136.0,417.0 1140.0,420.1 1144.0,423.5 1148.0,426.8 1152.0,430.1 1156.0,433.1 1160.0,435.4 1164.0,436.7 1168.0,438.3 1172.0,438.9 1176.0,439.8 1180.0,440.7 1184.0,442.2 1188.0,445.3 1192.0,448.1 1196.0,450.2 1200.0,449.8 1204.0,449.6 1208.0,447.8 1212.0,444.9 1216.0,442.4 1220.0,439.8 1224.0,436.2 1228.0,433.3 1232.0,430.4 1236.0,429.5 1240.0,429.2 1244.0,429.0 1248.0,428.8 1252.0,428.3 1256.0,427.7 1260.0,424.5 1264.0,420.5 1268.0,415.7 1272.0,410.2 1276.0,404.7 1280.0,399.8 1284.0,396.4 1288.0,392.6 1292.0,389.6 1296.0,388.1 1300.0,387.4 1304.0,386.7"/>
</g>
<g shape-rendering="crispEdges">
<rect x="4" y="265" width="1636" height="2" fill="#ff0000"/>
<rect x="4" y="330" width="1636" height="2" fill="#ff0000"/>
<rect x="4" y="406" width="1636" height="2" fill="#00ff00"/>
<rect x="4" y="482" width="1636" height="2" fill="#0000cd"/>
<rect x="4" y="573" width="1636" height="2" fill="#0000cd"/>
</g>
</g>
<g shape-rendering="crispEdges">
<rect x="1640" y="265" width="2" height="2" fill="#ff0000"/>
<rect x="3" y="263" width="6" height="6" fill="#ff0000"/>
<rect x="5" y="265" width="2" height="2" fill="#fff"/>
<rect x="1634" y="263" width="6" height="6" fill="#ff0000"/>
<rect x="1636" y="265" width="2" height="2" fill="#fff"/>
<rect x="1640" y="330" width="2" height="2" fill="#ff0000"/>
<rect x="3" y="328" width="6" height="6" fill="#ff0000"/>
<rect x="5" y="330" width="2" height="2" fill="#fff"/>
<rect x="1634" y="328" width="6" height="6" fill="#ff0000"/>
<rect x="1636" y="330" width="2" height="2" fill="#fff"/>
<rect x="1640" y="406" width="2" height="2" fill="#00ff00"/>
<rect x="3" y="404" width="6" height="6" fill="#00ff00"/>
<rect x="5" y="406" width="2" height="2" fill="#fff"/>
<rect x="1634" y="404" width="6" height="6" fill="#00ff00"/>
<rect x="1636" y="406" width="2" height="2" fill="#fff"/>
<rect x="1640" y="482" width="2" height="2" fill="#0000cd"/>
<rect x="3" y="480" width="6" height="6" fill="#0000cd"/>
<rect x="5" y="482" width="2" height="2" fill="#fff"/>
<rect x="1634" y="480" width="6" height="6" fill="#0000cd"/>
<rect x="1636" y="482" width="2" height="2" fill="#fff"/>
</g>
<path d="M1307 24h9.4l-4.7 5z" fill="#c0c0c0"/>
<path d="M7 30h7l-3.5 4z" fill="#000"/>
<text class="ax" x="19" y="35" textLength="211" lengthAdjust="spacingAndGlyphs" xml:space="preserve">EURUSD,Daily  1.11191 1.11251 1.11008 1.11170</text>
<g shape-rendering="crispEdges">
<rect x="1641" y="26" width="2" height="1" fill="#000"/>
<rect x="1641" y="59" width="2" height="1" fill="#000"/>
<rect x="1641" y="92" width="2" height="1" fill="#000"/>
<rect x="1641" y="125" width="2" height="1" fill="#000"/>
<rect x="1641" y="158" width="2" height="1" fill="#000"/>
<rect x="1641" y="191" width="2" height="1" fill="#000"/>
<rect x="1641" y="224" width="2" height="1" fill="#000"/>
<rect x="1641" y="257" width="2" height="1" fill="#000"/>
<rect x="1641" y="290" width="2" height="1" fill="#000"/>
<rect x="1641" y="323" width="2" height="1" fill="#000"/>
<rect x="1641" y="356" width="2" height="1" fill="#000"/>
<rect x="1641" y="389" width="2" height="1" fill="#000"/>
<rect x="1641" y="422" width="2" height="1" fill="#000"/>
<rect x="1641" y="455" width="2" height="1" fill="#000"/>
<rect x="1641" y="488" width="2" height="1" fill="#000"/>
<rect x="1641" y="521" width="2" height="1" fill="#000"/>
<rect x="1641" y="554" width="2" height="1" fill="#000"/>
<rect x="1641" y="587" width="2" height="1" fill="#000"/>
</g>
<text class="ax" x="1646" y="30" textLength="33" lengthAdjust="spacingAndGlyphs">1.16020</text>
<text class="ax" x="1646" y="63" textLength="33" lengthAdjust="spacingAndGlyphs">1.15580</text>
<text class="ax" x="1646" y="96" textLength="33" lengthAdjust="spacingAndGlyphs">1.15150</text>
<text class="ax" x="1646" y="129" textLength="33" lengthAdjust="spacingAndGlyphs">1.14720</text>
<text class="ax" x="1646" y="162" textLength="33" lengthAdjust="spacingAndGlyphs">1.14280</text>
<text class="ax" x="1646" y="195" textLength="33" lengthAdjust="spacingAndGlyphs">1.13850</text>
<text class="ax" x="1646" y="228" textLength="33" lengthAdjust="spacingAndGlyphs">1.13410</text>
<text class="ax" x="1646" y="261" textLength="33" lengthAdjust="spacingAndGlyphs">1.12980</text>
<text class="ax" x="1646" y="294" textLength="33" lengthAdjust="spacingAndGlyphs">1.12540</text>
<text class="ax" x="1646" y="327" textLength="33" lengthAdjust="spacingAndGlyphs">1.12110</text>
<text class="ax" x="1646" y="360" textLength="33" lengthAdjust="spacingAndGlyphs">1.11670</text>
<text class="ax" x="1646" y="393" textLength="33" lengthAdjust="spacingAndGlyphs">1.11240</text>
<text class="ax" x="1646" y="426" textLength="33" lengthAdjust="spacingAndGlyphs">1.10800</text>
<text class="ax" x="1646" y="459" textLength="33" lengthAdjust="spacingAndGlyphs">1.10370</text>
<text class="ax" x="1646" y="492" textLength="33" lengthAdjust="spacingAndGlyphs">1.09930</text>
<text class="ax" x="1646" y="525" textLength="33" lengthAdjust="spacingAndGlyphs">1.09500</text>
<text class="ax" x="1646" y="558" textLength="33" lengthAdjust="spacingAndGlyphs">1.09070</text>
<text class="ax" x="1646" y="591" textLength="33" lengthAdjust="spacingAndGlyphs">1.08630</text>
<g shape-rendering="crispEdges">
<rect x="1642" y="260" width="39" height="11" fill="#ff0000"/>
<rect x="1642" y="325" width="39" height="11" fill="#ff0000"/>
<rect x="1642" y="389" width="39" height="11" fill="#000000"/>
<rect x="1642" y="401" width="39" height="11" fill="#00ff00"/>
<rect x="1642" y="477" width="39" height="11" fill="#0000cd"/>
<rect x="1642" y="568" width="39" height="11" fill="#0000cd"/>
</g>
<text class="ax axw" x="1646" y="269" style="fill:#fff" textLength="33" lengthAdjust="spacingAndGlyphs">1.12859</text>
<text class="ax axw" x="1646" y="334" style="fill:#fff" textLength="33" lengthAdjust="spacingAndGlyphs">1.12005</text>
<text class="ax axw" x="1646" y="398" style="fill:#fff" textLength="33" lengthAdjust="spacingAndGlyphs">1.11170</text>
<text class="ax axw" x="1646" y="410" style="fill:#fff" textLength="33" lengthAdjust="spacingAndGlyphs">1.11009</text>
<text class="ax axw" x="1646" y="486" style="fill:#fff" textLength="33" lengthAdjust="spacingAndGlyphs">1.10008</text>
<text class="ax axw" x="1646" y="577" style="fill:#fff" textLength="33" lengthAdjust="spacingAndGlyphs">1.08800</text>
<g shape-rendering="crispEdges">
<path d="M4 624.5H1640" stroke="#c0c0c0" stroke-width="1" stroke-dasharray="3 3" fill="none"/>
<path d="M4 665.5H1640" stroke="#c0c0c0" stroke-width="1" stroke-dasharray="3 3" fill="none"/>
</g>
<g clip-path="url(#cr)"><polyline shape-rendering="crispEdges" fill="none" stroke="#1e90ff" stroke-width="1" points="4.0,640.1 8.0,641.2 12.0,637.2 16.0,636.0 20.0,637.6 24.0,634.3 28.0,649.0 32.0,644.0 36.0,641.9 40.0,644.0 44.0,636.9 48.0,639.0 52.0,633.4 56.0,632.0 60.0,637.6 64.0,640.1 68.0,639.0 72.0,643.3 76.0,649.0 80.0,650.2 84.0,652.2 88.0,651.2 92.0,651.9 96.0,653.3 100.0,649.0 104.0,652.2 108.0,645.2 112.0,642.9 116.0,639.3 120.0,643.3 124.0,641.9 128.0,635.2 132.0,635.9 136.0,636.9 140.0,642.9 144.0,647.1 148.0,651.2 152.0,654.2 156.0,657.1 160.0,658.2 164.0,663.4 168.0,658.4 172.0,660.2 176.0,661.1 180.0,662.8 184.0,655.6 188.0,652.9 192.0,648.1 196.0,645.1 200.0,645.4 204.0,647.0 208.0,647.4 212.0,645.3 216.0,642.4 220.0,638.1 224.0,636.8 228.0,637.2 232.0,644.3 236.0,651.7 240.0,654.6 244.0,651.7 248.0,664.0 252.0,662.6 256.0,661.2 260.0,663.6 264.0,651.6 268.0,645.7 272.0,646.6 276.0,642.5 280.0,644.0 284.0,640.7 288.0,639.1 292.0,638.1 296.0,636.7 300.0,651.4 304.0,649.2 308.0,644.3 312.0,651.0 316.0,654.7 320.0,656.7 324.0,657.7 328.0,659.3 332.0,660.0 336.0,662.9 340.0,650.8 344.0,654.2 348.0,654.2 352.0,654.2 356.0,645.3 360.0,642.5 364.0,644.9 368.0,645.7 372.0,638.0 376.0,639.9 380.0,638.5 384.0,640.7 388.0,639.8 392.0,650.9 396.0,652.8 400.0,649.5 404.0,646.5 408.0,654.2 412.0,656.9 416.0,663.1 420.0,660.0 424.0,659.9 428.0,657.8 432.0,649.7 436.0,641.9 440.0,651.2 444.0,650.2 448.0,649.4 452.0,648.6 456.0,651.9 460.0,646.6 464.0,642.8 468.0,640.5 472.0,642.4 476.0,642.6 480.0,647.0 484.0,647.1 488.0,652.6 492.0,654.4 496.0,655.5 500.0,652.5 504.0,655.0 508.0,655.1 512.0,651.0 516.0,644.5 520.0,641.7 524.0,646.0 528.0,649.4 532.0,656.8 536.0,655.7 540.0,652.7 544.0,646.9 548.0,640.4 552.0,634.8 556.0,633.9 560.0,626.7 564.0,623.2 568.0,621.7 572.0,629.3 576.0,628.4 580.0,630.1 584.0,637.9 588.0,648.4 592.0,649.7 596.0,644.7 600.0,650.7 604.0,647.4 608.0,637.5 612.0,632.3 616.0,628.6 620.0,626.5 624.0,628.0 628.0,627.6 632.0,631.2 636.0,630.6 640.0,630.3 644.0,643.4 648.0,644.4 652.0,648.1 656.0,646.6 660.0,655.6 664.0,654.3 668.0,656.1 672.0,655.8 676.0,646.6 680.0,646.5 684.0,647.7 688.0,644.0 692.0,647.2 696.0,653.8 700.0,649.9 704.0,650.6 708.0,651.7 712.0,652.0 716.0,652.8 720.0,661.2 724.0,663.1 728.0,659.2 732.0,663.5 736.0,661.9 740.0,657.8 744.0,656.9 748.0,659.5 752.0,667.5 756.0,655.9 760.0,656.4 764.0,642.4 768.0,642.5 772.0,637.4 776.0,642.0 780.0,639.9 784.0,642.3 788.0,641.7 792.0,646.1 796.0,651.6 800.0,656.5 804.0,657.9 808.0,656.1 812.0,656.3 816.0,657.1 820.0,655.6 824.0,656.8 828.0,645.1 832.0,645.5 836.0,651.2 840.0,653.7 844.0,655.1 848.0,658.6 852.0,666.1 856.0,667.2 860.0,668.0 864.0,668.1 868.0,654.9 872.0,652.3 876.0,651.6 880.0,653.4 884.0,647.8 888.0,650.6 892.0,656.1 896.0,643.5 900.0,643.8 904.0,645.0 908.0,653.6 912.0,644.9 916.0,645.2 920.0,647.3 924.0,652.8 928.0,650.6 932.0,653.9 936.0,650.7 940.0,657.7 944.0,658.9 948.0,658.1 952.0,658.3 956.0,662.3 960.0,656.6 964.0,653.1 968.0,646.1 972.0,648.8 976.0,646.8 980.0,646.9 984.0,652.3 988.0,647.1 992.0,640.9 996.0,637.9 1000.0,637.3 1004.0,640.7 1008.0,639.2 1012.0,633.2 1016.0,627.5 1020.0,625.0 1024.0,624.3 1028.0,628.3 1032.0,629.5 1036.0,633.9 1040.0,638.0 1044.0,641.1 1048.0,641.4 1052.0,638.9 1056.0,635.0 1060.0,634.0 1064.0,629.5 1068.0,627.7 1072.0,629.4 1076.0,631.4 1080.0,647.9 1084.0,647.7 1088.0,652.3 1092.0,655.9 1096.0,656.1 1100.0,652.6 1104.0,656.2 1108.0,656.4 1112.0,658.0 1116.0,646.5 1120.0,645.7 1124.0,641.0 1128.0,641.4 1132.0,644.0 1136.0,642.0 1140.0,650.5 1144.0,651.7 1148.0,654.4 1152.0,654.5 1156.0,656.7 1160.0,654.3 1164.0,648.6 1168.0,651.3 1172.0,639.3 1176.0,636.9 1180.0,636.1 1184.0,635.1 1188.0,645.7 1192.0,644.6 1196.0,641.0 1200.0,637.2 1204.0,638.9 1208.0,632.9 1212.0,630.1 1216.0,634.6 1220.0,631.6 1224.0,628.7 1228.0,636.6 1232.0,638.9 1236.0,644.8 1240.0,648.3 1244.0,644.4 1248.0,644.3 1252.0,644.7 1256.0,641.7 1260.0,630.7 1264.0,627.9 1268.0,625.8 1272.0,623.2 1276.0,625.3 1280.0,629.6 1284.0,638.3 1288.0,637.5 1292.0,634.1 1296.0,643.7 1300.0,647.7 1304.0,647.7"/></g>
<text class="ax" x="8" y="605" textLength="67" lengthAdjust="spacingAndGlyphs">RSI(14) 46.7471</text>
<g shape-rendering="crispEdges">
<rect x="1641" y="594" width="2" height="1" fill="#000"/>
<rect x="1641" y="624" width="2" height="1" fill="#000"/>
<rect x="1641" y="665" width="2" height="1" fill="#000"/>
<rect x="1641" y="695" width="2" height="1" fill="#000"/>
</g>
<text class="ax" x="1645" y="603" textLength="15" lengthAdjust="spacingAndGlyphs">100</text>
<text class="ax" x="1645" y="628" textLength="10" lengthAdjust="spacingAndGlyphs">70</text>
<text class="ax" x="1645" y="669" textLength="10" lengthAdjust="spacingAndGlyphs">30</text>
<text class="ax" x="1645" y="693" textLength="5" lengthAdjust="spacingAndGlyphs">0</text>
<g clip-path="url(#cd)"><path shape-rendering="crispEdges" fill="#c0c0c0" d="M4 738h1v10h-1zM8 737h1v11h-1zM12 734h1v14h-1zM16 731h1v17h-1zM20 730h1v18h-1zM24 726h1v22h-1zM28 734h1v14h-1zM32 735h1v13h-1zM36 736h1v12h-1zM40 736h1v12h-1zM44 733h1v15h-1zM48 731h1v17h-1zM52 726h1v22h-1zM56 720h1v28h-1zM60 718h1v30h-1zM64 719h1v29h-1zM68 721h1v27h-1zM72 725h1v23h-1zM76 730h1v18h-1zM80 737h1v11h-1zM84 742h1v6h-1zM88 747h1v1h-1zM92 747h1v5h-1zM96 747h1v9h-1zM100 747h1v10h-1zM104 747h1v12h-1zM108 747h1v10h-1zM112 747h1v9h-1zM116 747h1v5h-1zM120 747h1v3h-1zM124 747h1v1h-1zM128 742h1v6h-1zM132 738h1v10h-1zM136 737h1v11h-1zM140 737h1v11h-1zM144 740h1v8h-1zM148 745h1v3h-1zM152 747h1v3h-1zM156 747h1v9h-1zM160 747h1v15h-1zM164 747h1v23h-1zM168 747h1v27h-1zM172 747h1v31h-1zM176 747h1v34h-1zM180 747h1v37h-1zM184 747h1v37h-1zM188 747h1v36h-1zM192 747h1v31h-1zM196 747h1v27h-1zM200 747h1v23h-1zM204 747h1v21h-1zM208 747h1v19h-1zM212 747h1v16h-1zM216 747h1v13h-1zM220 747h1v8h-1zM224 747h1v4h-1zM228 747h1v1h-1zM232 747h1v1h-1zM236 747h1v4h-1zM240 747h1v7h-1zM244 747h1v9h-1zM248 747h1v17h-1zM252 747h1v23h-1zM256 747h1v27h-1zM260 747h1v31h-1zM264 747h1v30h-1zM268 747h1v26h-1zM272 747h1v23h-1zM276 747h1v18h-1zM280 747h1v15h-1zM284 747h1v11h-1zM288 747h1v7h-1zM292 747h1v4h-1zM296 746h1v2h-1zM300 747h1v3h-1zM304 747h1v5h-1zM308 747h1v4h-1zM312 747h1v7h-1zM316 747h1v12h-1zM320 747h1v16h-1zM324 747h1v20h-1zM328 747h1v24h-1zM332 747h1v27h-1zM336 747h1v31h-1zM340 747h1v30h-1zM344 747h1v30h-1zM348 747h1v30h-1zM352 747h1v30h-1zM356 747h1v26h-1zM360 747h1v21h-1zM364 747h1v18h-1zM368 747h1v16h-1zM372 747h1v10h-1zM376 747h1v7h-1zM380 747h1v3h-1zM384 747h1v1h-1zM388 745h1v3h-1zM392 747h1v2h-1zM396 747h1v6h-1zM400 747h1v7h-1zM404 747h1v7h-1zM408 747h1v10h-1zM412 747h1v15h-1zM416 747h1v22h-1zM420 747h1v26h-1zM424 747h1v30h-1zM428 747h1v31h-1zM432 747h1v29h-1zM436 747h1v23h-1zM440 747h1v23h-1zM444 747h1v23h-1zM448 747h1v22h-1zM452 747h1v20h-1zM456 747h1v21h-1zM460 747h1v19h-1zM464 747h1v15h-1zM468 747h1v11h-1zM472 747h1v8h-1zM476 747h1v6h-1zM480 747h1v6h-1zM484 747h1v7h-1zM488 747h1v9h-1zM492 747h1v12h-1zM496 747h1v14h-1zM500 747h1v15h-1zM504 747h1v17h-1zM508 747h1v18h-1zM512 747h1v18h-1zM516 747h1v15h-1zM520 747h1v12h-1zM524 747h1v11h-1zM528 747h1v11h-1zM532 747h1v14h-1zM536 747h1v16h-1zM540 747h1v17h-1zM544 747h1v15h-1zM548 747h1v11h-1zM552 747h1v6h-1zM556 746h1v2h-1zM560 738h1v10h-1zM564 730h1v18h-1zM568 722h1v26h-1zM572 718h1v30h-1zM576 716h1v32h-1zM580 714h1v34h-1zM584 716h1v32h-1zM588 723h1v25h-1zM592 729h1v19h-1zM596 732h1v16h-1zM600 738h1v10h-1zM604 741h1v7h-1zM608 738h1v10h-1zM612 731h1v17h-1zM616 724h1v24h-1zM620 716h1v32h-1zM624 711h1v37h-1zM628 707h1v41h-1zM632 706h1v42h-1zM636 705h1v43h-1zM640 705h1v43h-1zM644 711h1v37h-1zM648 717h1v31h-1zM652 723h1v25h-1zM656 728h1v20h-1zM660 738h1v10h-1zM664 745h1v3h-1zM668 747h1v5h-1zM672 747h1v10h-1zM676 747h1v10h-1zM680 747h1v10h-1zM684 747h1v10h-1zM688 747h1v8h-1zM692 747h1v8h-1zM696 747h1v12h-1zM700 747h1v13h-1zM704 747h1v14h-1zM708 747h1v15h-1zM712 747h1v16h-1zM716 747h1v17h-1zM720 747h1v22h-1zM724 747h1v28h-1zM728 747h1v30h-1zM732 747h1v34h-1zM736 747h1v37h-1zM740 747h1v37h-1zM744 747h1v37h-1zM748 747h1v37h-1zM752 747h1v43h-1zM756 747h1v43h-1zM760 747h1v42h-1zM764 747h1v34h-1zM768 747h1v28h-1zM772 747h1v19h-1zM776 747h1v15h-1zM780 747h1v10h-1zM784 747h1v7h-1zM788 747h1v5h-1zM792 747h1v5h-1zM796 747h1v8h-1zM800 747h1v14h-1zM804 747h1v19h-1zM808 747h1v23h-1zM812 747h1v25h-1zM816 747h1v27h-1zM820 747h1v28h-1zM824 747h1v29h-1zM828 747h1v25h-1zM832 747h1v22h-1zM836 747h1v22h-1zM840 747h1v23h-1zM844 747h1v24h-1zM848 747h1v27h-1zM852 747h1v34h-1zM856 747h1v41h-1zM860 747h1v46h-1zM864 747h1v50h-1zM868 747h1v48h-1zM872 747h1v44h-1zM876 747h1v41h-1zM880 747h1v39h-1zM884 747h1v34h-1zM888 747h1v32h-1zM892 747h1v32h-1zM896 747h1v27h-1zM900 747h1v22h-1zM904 747h1v19h-1zM908 747h1v21h-1zM912 747h1v18h-1zM916 747h1v16h-1zM920 747h1v15h-1zM924 747h1v18h-1zM928 747h1v18h-1zM932 747h1v21h-1zM936 747h1v21h-1zM940 747h1v26h-1zM944 747h1v30h-1zM948 747h1v33h-1zM952 747h1v35h-1zM956 747h1v39h-1zM960 747h1v39h-1zM964 747h1v38h-1zM968 747h1v33h-1zM972 747h1v30h-1zM976 747h1v27h-1zM980 747h1v24h-1zM984 747h1v24h-1zM988 747h1v22h-1zM992 747h1v16h-1zM996 747h1v10h-1zM1000 747h1v5h-1zM1004 747h1v2h-1zM1008 746h1v2h-1zM1012 740h1v8h-1zM1016 731h1v17h-1zM1020 723h1v25h-1zM1024 716h1v32h-1zM1028 712h1v36h-1zM1032 710h1v38h-1zM1036 711h1v37h-1zM1040 713h1v35h-1zM1044 717h1v31h-1zM1048 720h1v28h-1zM1052 722h1v26h-1zM1056 721h1v27h-1zM1060 721h1v27h-1zM1064 718h1v30h-1zM1068 716h1v32h-1zM1072 714h1v34h-1zM1076 714h1v34h-1zM1080 721h1v27h-1zM1084 727h1v21h-1zM1088 734h1v14h-1zM1092 741h1v7h-1zM1096 747h1v1h-1zM1100 747h1v5h-1zM1104 747h1v9h-1zM1108 747h1v13h-1zM1112 747h1v17h-1zM1116 747h1v15h-1zM1120 747h1v13h-1zM1124 747h1v10h-1zM1128 747h1v7h-1zM1132 747h1v6h-1zM1136 747h1v4h-1zM1140 747h1v6h-1zM1144 747h1v8h-1zM1148 747h1v11h-1zM1152 747h1v13h-1zM1156 747h1v16h-1zM1160 747h1v17h-1zM1164 747h1v16h-1zM1168 747h1v16h-1zM1172 747h1v11h-1zM1176 747h1v7h-1zM1180 747h1v2h-1zM1184 745h1v3h-1zM1188 746h1v2h-1zM1192 746h1v2h-1zM1196 745h1v3h-1zM1200 742h1v6h-1zM1204 741h1v7h-1zM1208 737h1v11h-1zM1212 733h1v15h-1zM1216 731h1v17h-1zM1220 728h1v20h-1zM1224 725h1v23h-1zM1228 725h1v23h-1zM1232 726h1v22h-1zM1236 729h1v19h-1zM1240 734h1v14h-1zM1244 736h1v12h-1zM1248 737h1v11h-1zM1252 739h1v9h-1zM1256 739h1v9h-1zM1260 734h1v14h-1zM1264 729h1v19h-1zM1268 724h1v24h-1zM1272 718h1v30h-1zM1276 714h1v34h-1zM1280 713h1v35h-1zM1284 716h1v32h-1zM1288 718h1v30h-1zM1292 718h1v30h-1zM1296 722h1v26h-1zM1300 727h1v21h-1zM1304 732h1v16h-1z"/>
<polyline shape-rendering="crispEdges" fill="none" stroke="#ff0000" stroke-width="1" stroke-dasharray="3 3" points="4.0,746.0 8.0,743.5 12.0,741.0 16.0,738.6 20.0,736.3 24.0,733.9 28.0,733.6 32.0,733.4 36.0,733.1 40.0,732.8 44.0,732.4 48.0,732.1 52.0,731.0 56.0,730.0 60.0,728.9 64.0,727.5 68.0,726.0 72.0,725.2 76.0,724.4 80.0,724.7 84.0,725.6 88.0,728.6 92.0,731.7 96.0,735.7 100.0,739.7 104.0,743.4 108.0,746.9 112.0,750.3 116.0,751.7 120.0,753.1 124.0,752.6 128.0,752.1 132.0,750.0 136.0,747.9 140.0,746.0 144.0,744.0 148.0,743.0 152.0,742.1 156.0,743.1 160.0,744.3 164.0,747.1 168.0,750.3 172.0,755.6 176.0,761.0 180.0,765.6 184.0,769.9 188.0,773.4 192.0,776.2 196.0,777.4 200.0,777.8 204.0,777.0 208.0,775.8 212.0,773.6 216.0,770.9 220.0,767.8 224.0,764.4 228.0,761.0 232.0,758.1 236.0,755.9 240.0,754.4 244.0,753.3 248.0,753.4 252.0,754.5 256.0,756.5 260.0,759.4 264.0,762.6 268.0,765.3 272.0,767.4 276.0,768.6 280.0,769.3 284.0,768.6 288.0,766.9 292.0,764.3 296.0,760.9 300.0,758.0 304.0,755.7 308.0,753.7 312.0,752.4 316.0,752.0 320.0,752.5 324.0,753.9 328.0,756.2 332.0,759.2 336.0,762.3 340.0,765.1 344.0,767.9 348.0,770.5 352.0,772.5 356.0,773.5 360.0,773.6 364.0,772.9 368.0,771.6 372.0,769.3 376.0,766.7 380.0,763.7 384.0,760.4 388.0,757.0 392.0,754.5 396.0,752.8 400.0,751.6 404.0,750.7 408.0,750.7 412.0,751.6 416.0,753.7 420.0,756.5 424.0,759.9 428.0,763.1 432.0,765.7 436.0,767.4 440.0,769.3 444.0,770.6 448.0,771.4 452.0,771.2 456.0,770.6 460.0,769.4 464.0,767.6 468.0,765.7 472.0,764.0 476.0,762.1 480.0,760.3 484.0,758.6 488.0,757.4 492.0,756.3 496.0,755.9 500.0,755.9 504.0,756.6 508.0,757.6 512.0,758.9 516.0,759.9 520.0,760.4 524.0,760.6 528.0,760.5 532.0,760.4 536.0,760.5 540.0,760.5 544.0,760.2 548.0,759.5 552.0,758.4 556.0,757.2 560.0,755.2 564.0,752.2 568.0,747.9 572.0,743.1 576.0,737.8 580.0,732.6 584.0,728.1 588.0,724.9 592.0,723.1 596.0,722.4 600.0,723.3 604.0,725.4 608.0,727.5 612.0,729.3 616.0,730.3 620.0,730.3 624.0,728.9 628.0,726.4 632.0,723.5 636.0,719.8 640.0,715.8 644.0,712.9 648.0,711.2 652.0,711.2 656.0,712.5 660.0,715.5 664.0,719.6 668.0,724.7 672.0,730.3 676.0,736.0 680.0,741.0 684.0,745.4 688.0,748.8 692.0,751.7 696.0,754.0 700.0,755.6 704.0,756.6 708.0,757.2 712.0,757.9 716.0,758.7 720.0,760.1 724.0,762.3 728.0,764.7 732.0,767.2 736.0,769.8 740.0,772.4 744.0,774.8 748.0,777.1 752.0,780.0 756.0,782.3 760.0,783.9 764.0,784.4 768.0,783.6 772.0,781.7 776.0,779.2 780.0,776.2 784.0,772.9 788.0,768.6 792.0,764.4 796.0,760.6 800.0,758.4 804.0,757.4 808.0,757.8 812.0,758.9 816.0,760.9 820.0,763.2 824.0,765.9 828.0,768.1 832.0,769.6 836.0,770.4 840.0,770.8 844.0,770.9 848.0,771.1 852.0,771.9 856.0,773.3 860.0,775.2 864.0,778.0 868.0,780.8 872.0,783.4 876.0,785.4 880.0,787.0 884.0,787.8 888.0,787.5 892.0,786.6 896.0,784.4 900.0,781.4 904.0,778.2 908.0,775.7 912.0,773.2 916.0,770.6 920.0,768.5 924.0,766.9 928.0,765.4 932.0,764.7 936.0,764.6 940.0,765.3 944.0,766.3 948.0,767.9 952.0,770.0 956.0,772.7 960.0,775.1 964.0,777.3 968.0,778.7 972.0,779.7 976.0,779.8 980.0,779.1 984.0,778.1 988.0,776.6 992.0,774.1 996.0,770.8 1000.0,767.2 1004.0,763.8 1008.0,760.4 1012.0,756.7 1016.0,752.5 1020.0,747.2 1024.0,741.5 1028.0,735.9 1032.0,730.8 1036.0,726.3 1040.0,722.3 1044.0,719.1 1048.0,716.9 1052.0,715.9 1056.0,715.7 1060.0,716.3 1064.0,717.0 1068.0,717.6 1072.0,718.1 1076.0,718.2 1080.0,718.7 1084.0,719.4 1088.0,720.7 1092.0,722.9 1096.0,725.8 1100.0,729.4 1104.0,733.8 1108.0,738.8 1112.0,744.2 1116.0,748.6 1120.0,752.3 1124.0,754.7 1128.0,756.1 1132.0,756.6 1136.0,756.6 1140.0,756.2 1144.0,755.7 1148.0,755.1 1152.0,754.9 1156.0,755.2 1160.0,756.0 1164.0,756.9 1168.0,758.0 1172.0,758.8 1176.0,758.9 1180.0,758.2 1184.0,756.8 1188.0,755.3 1192.0,753.5 1196.0,751.5 1200.0,749.3 1204.0,746.9 1208.0,744.6 1212.0,742.4 1216.0,740.4 1220.0,738.6 1224.0,736.3 1228.0,733.9 1232.0,731.8 1236.0,730.4 1240.0,729.6 1244.0,729.5 1248.0,730.0 1252.0,730.9 1256.0,732.1 1260.0,733.2 1264.0,733.7 1268.0,733.4 1272.0,732.2 1276.0,730.0 1280.0,727.5 1284.0,725.1 1288.0,722.7 1292.0,720.3 1296.0,719.0 1300.0,718.8 1304.0,719.8"/></g>
<text class="ax" x="8" y="711" textLength="148" lengthAdjust="spacingAndGlyphs">MACD(12,26,9) 0.001493 0.002709</text>
<g shape-rendering="crispEdges">
<rect x="1641" y="700" width="2" height="1" fill="#000"/>
<rect x="1641" y="747" width="2" height="1" fill="#000"/>
<rect x="1641" y="800" width="2" height="1" fill="#000"/>
</g>
<text class="ax" x="1644" y="709" textLength="33" lengthAdjust="spacingAndGlyphs">0.00463</text>
<text class="ax" x="1644" y="751" textLength="18" lengthAdjust="spacingAndGlyphs">0.00</text>
<text class="ax" x="1644" y="798" textLength="41" lengthAdjust="spacingAndGlyphs">-0.005299</text>
<g shape-rendering="crispEdges">
<rect x="4" y="802" width="1" height="3" fill="#000"/>
<rect x="68" y="802" width="1" height="3" fill="#000"/>
<rect x="132" y="802" width="1" height="3" fill="#000"/>
<rect x="196" y="802" width="1" height="3" fill="#000"/>
<rect x="260" y="802" width="1" height="3" fill="#000"/>
<rect x="324" y="802" width="1" height="3" fill="#000"/>
<rect x="388" y="802" width="1" height="3" fill="#000"/>
<rect x="452" y="802" width="1" height="3" fill="#000"/>
<rect x="516" y="802" width="1" height="3" fill="#000"/>
<rect x="580" y="802" width="1" height="3" fill="#000"/>
<rect x="644" y="802" width="1" height="3" fill="#000"/>
<rect x="708" y="802" width="1" height="3" fill="#000"/>
<rect x="772" y="802" width="1" height="3" fill="#000"/>
<rect x="836" y="802" width="1" height="3" fill="#000"/>
<rect x="900" y="802" width="1" height="3" fill="#000"/>
<rect x="964" y="802" width="1" height="3" fill="#000"/>
<rect x="1028" y="802" width="1" height="3" fill="#000"/>
<rect x="1092" y="802" width="1" height="3" fill="#000"/>
<rect x="1156" y="802" width="1" height="3" fill="#000"/>
<rect x="1220" y="802" width="1" height="3" fill="#000"/>
<rect x="1284" y="802" width="1" height="3" fill="#000"/>
</g>
<text class="ax" x="3" y="814" textLength="52" lengthAdjust="spacingAndGlyphs">26 Dec 2018</text>
<text class="ax" x="67" y="814" textLength="50.3" lengthAdjust="spacingAndGlyphs">14 Jan 2019</text>
<text class="ax" x="131" y="814" textLength="47.3" lengthAdjust="spacingAndGlyphs">1 Feb 2019</text>
<text class="ax" x="195" y="814" textLength="51.8" lengthAdjust="spacingAndGlyphs">20 Feb 2019</text>
<text class="ax" x="259" y="814" textLength="51.4" lengthAdjust="spacingAndGlyphs">11 Mar 2019</text>
<text class="ax" x="323" y="814" textLength="51.2" lengthAdjust="spacingAndGlyphs">29 Mar 2019</text>
<text class="ax" x="387" y="814" textLength="50.1" lengthAdjust="spacingAndGlyphs">17 Apr 2019</text>
<text class="ax" x="451" y="814" textLength="50.5" lengthAdjust="spacingAndGlyphs">6 May 2019</text>
<text class="ax" x="515" y="814" textLength="54.7" lengthAdjust="spacingAndGlyphs">24 May 2019</text>
<text class="ax" x="579" y="814" textLength="50" lengthAdjust="spacingAndGlyphs">12 Jun 2019</text>
<text class="ax" x="643" y="814" textLength="41.3" lengthAdjust="spacingAndGlyphs">1 Jul 2019</text>
<text class="ax" x="707" y="814" textLength="46.5" lengthAdjust="spacingAndGlyphs">19 Jul 2019</text>
<text class="ax" x="771" y="814" textLength="47.4" lengthAdjust="spacingAndGlyphs">7 Aug 2019</text>
<text class="ax" x="835" y="814" textLength="52.6" lengthAdjust="spacingAndGlyphs">26 Aug 2019</text>
<text class="ax" x="899" y="814" textLength="52" lengthAdjust="spacingAndGlyphs">13 Sep 2019</text>
<text class="ax" x="963" y="814" textLength="46.3" lengthAdjust="spacingAndGlyphs">2 Oct 2019</text>
<text class="ax" x="1027" y="814" textLength="51.2" lengthAdjust="spacingAndGlyphs">21 Oct 2019</text>
<text class="ax" x="1091" y="814" textLength="49.1" lengthAdjust="spacingAndGlyphs">8 Nov 2019</text>
<text class="ax" x="1155" y="814" textLength="54.5" lengthAdjust="spacingAndGlyphs">27 Nov 2019</text>
<text class="ax" x="1219" y="814" textLength="51.4" lengthAdjust="spacingAndGlyphs">16 Dec 2019</text>
<text class="ax" x="1283" y="814" textLength="45" lengthAdjust="spacingAndGlyphs">3 Jan 2020</text>
<g shape-rendering="crispEdges">
<rect x="0" y="822" width="1681" height="1" fill="#e3e3e3"/>
<rect x="0" y="823" width="1681" height="1" fill="#f0f0f0"/>
<rect x="0" y="824" width="1681" height="1" fill="#000"/>
<rect x="0" y="825" width="1681" height="19" fill="#f0f0f0"/>
<rect x="0" y="844" width="1681" height="1" fill="#ffffff"/>
<rect x="0" y="845" width="1681" height="2" fill="#f0f0f0"/>
<rect x="0" y="824" width="1" height="20" fill="#696969"/>
<rect x="1" y="824" width="1" height="20" fill="#a0a0a0"/>
<rect x="5" y="824" width="104" height="20" fill="#000"/>
<rect x="6" y="824" width="102" height="19" fill="#fff"/>
<rect x="209" y="828" width="1" height="13" fill="#8c8c8c"/>
<rect x="313" y="828" width="1" height="13" fill="#8c8c8c"/>
<rect x="417" y="828" width="1" height="13" fill="#8c8c8c"/>
<rect x="521" y="828" width="1" height="13" fill="#8c8c8c"/>
</g>
<text class="tab" x="17.5" y="839" textLength="79.5" lengthAdjust="spacingAndGlyphs">EURUSD,Daily</text>
<text class="tabi" x="119" y="839" textLength="79" lengthAdjust="spacingAndGlyphs">USDCHF,Daily</text>
<text class="tabi" x="220" y="839" textLength="82" lengthAdjust="spacingAndGlyphs">AUDUSD,Daily</text>
<text class="tabi" x="324" y="839" textLength="81" lengthAdjust="spacingAndGlyphs">USDCAD,Daily</text>
<text class="tabi" x="427" y="839" textLength="83" lengthAdjust="spacingAndGlyphs">USDCNH,Daily</text>
<path d="M1659.6 829.6v6.8L1655.6 833z M1674.6 829.6v6.8L1678.6 833z" fill="#a0a0a0"/>
</svg></body></html>
